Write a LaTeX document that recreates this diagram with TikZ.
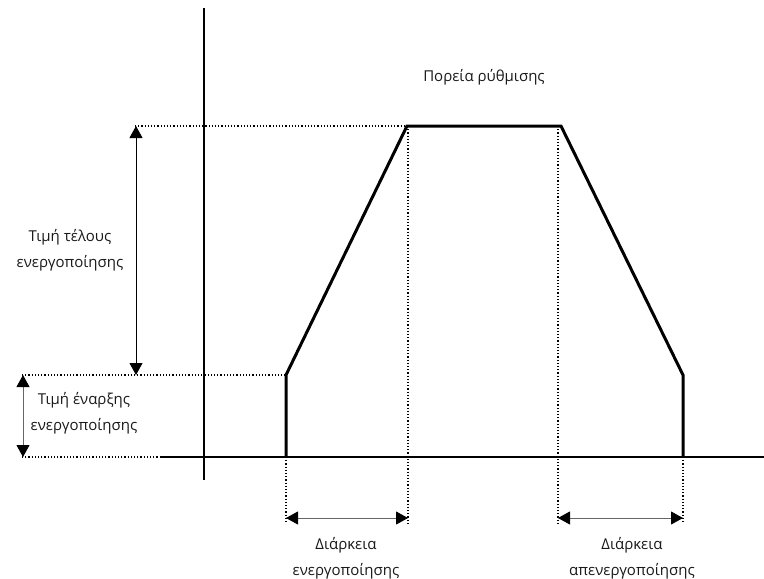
\documentclass[tikz,border=0pt]{standalone}
\usepackage{fontspec}
\setmainfont{Open Sans}
\usetikzlibrary{arrows.meta}
\begin{document}
\begin{tikzpicture}[x=1pt,y=-1pt,
  thickline/.style={line width=3pt,line join=miter},
  axis/.style={line width=1.3pt},
  guide/.style={line width=1.2pt,dotted},
  dimarrow/.style={line width=0.9pt,{Triangle[length=12pt,width=13pt,fill=black,color=black]}-{Triangle[length=12pt,width=13pt,fill=black,color=black]}},
  lbl/.style={font=\fontsize{15}{26}\selectfont,align=center,inner sep=0pt,text=black!90}]
\useasboundingbox (0,0) rectangle (764,579);
% coordinates
\coordinate (s0) at (286,457);
\coordinate (s1) at (286,375);
\coordinate (s2) at (407,126);
\coordinate (s3) at (561,126);
\coordinate (s4) at (683,375);
\coordinate (s5) at (683,457);
\coordinate (ytop) at (204,8);
\coordinate (ybot) at (204,480);
\coordinate (xl) at (160,457);
\coordinate (xr) at (764,457);
% guides
\draw[guide] (135,126) -- (s2);
\draw[guide] (22,375) -- (s1);
\draw[guide] (22,457) -- (xl);
\draw[guide] (s0) -- (286,523);
\draw[guide] (408,126) -- (408,523);
\draw[guide] (558,126) -- (558,523);
\draw[guide] (s5) -- (683,523);
% axes
\draw[axis] (ytop) -- (ybot);
\draw[axis] (xl) -- (xr);
% profile
\draw[thickline] (s0) -- (s1) -- (s2) -- (s3) -- (s4) -- (s5);
% dimension arrows
\coordinate (a1t) at (136,126);
\coordinate (a1b) at (136,375);
\coordinate (a2t) at (23,375);
\coordinate (a2b) at (23,457);
\coordinate (h1l) at (286,518);
\coordinate (h1r) at (408,518);
\coordinate (h2l) at (558,518);
\coordinate (h2r) at (683,518);
\draw[dimarrow] (a1t) -- (a1b);
\draw[dimarrow,draw=gray!80!black] (a2t) -- (a2b);
\draw[dimarrow,draw=gray!80!black] (h1l) -- (h1r);
\draw[dimarrow,draw=gray!80!black] (h2l) -- (h2r);
% labels
\node[lbl] (t0) at (484,77) {Πορεία ρύθμισης};
\node[lbl] (t1) at (70,250) {Τιμή τέλους\\ενεργοποίησης};
\node[lbl] (t2) at (84,413) {Τιμή έναρξης\\ενεργοποίησης};
\node[lbl] (t3) at (346,558) {Διάρκεια\\ενεργοποίησης};
\node[lbl] (t4) at (632,558) {Διάρκεια\\απενεργοποίησης};
\end{tikzpicture}
\end{document}
